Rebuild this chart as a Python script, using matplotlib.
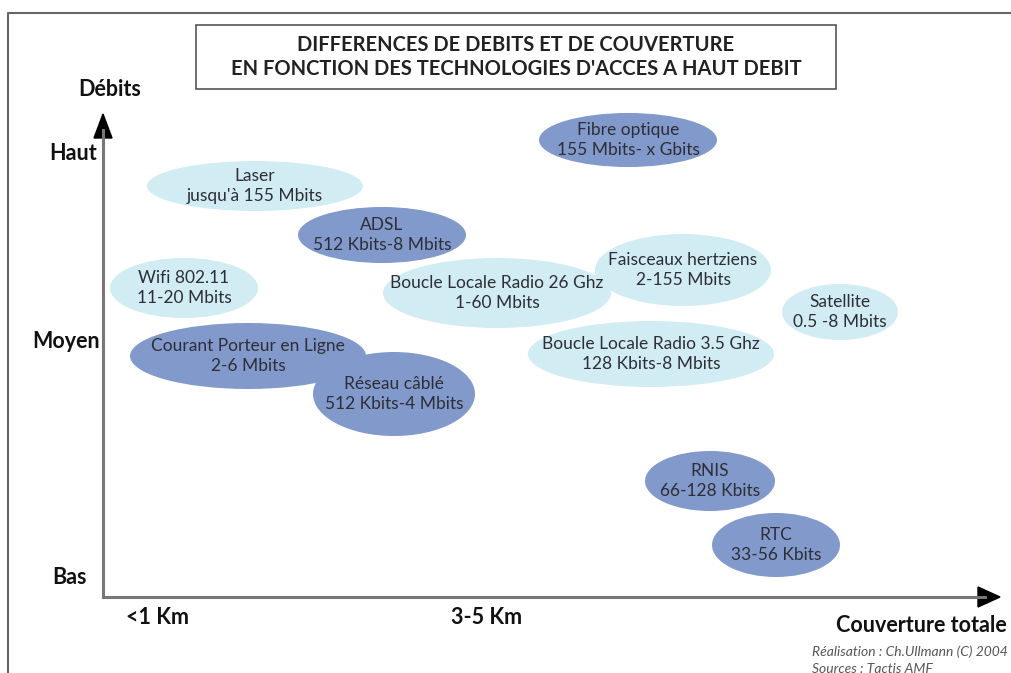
import matplotlib
matplotlib.use("Agg")
import matplotlib.pyplot as plt
from matplotlib.patches import Ellipse, Rectangle, FancyArrow

plt.rcParams['font.family'] = ['Lato', 'DejaVu Sans']

# technologies: label, coverage position (px), throughput position (px)
names = ["Laser\njusqu'à 155 Mbits", "Fibre optique\n155 Mbits- x Gbits",
         "ADSL\n512 Kbits-8 Mbits", "Wifi 802.11\n11-20 Mbits",
         "Boucle Locale Radio 26 Ghz\n1-60 Mbits", "Faisceaux hertziens\n2-155 Mbits",
         "Satellite\n0.5 -8 Mbits", "Boucle Locale Radio 3.5 Ghz\n128 Kbits-8 Mbits",
         "Courant Porteur en Ligne\n2-6 Mbits", "Réseau câblé\n512 Kbits-4 Mbits",
         "RNIS\n66-128 Kbits", "RTC\n33-56 Kbits"]
cov = [255, 628, 382, 184, 497, 683, 840, 651, 248, 394, 710, 776]
deb = [186, 140, 235, 288, 293, 270, 312, 354, 356, 394, 481, 545]
cov_span = [216, 178, 168, 148, 228, 176, 116, 246, 236, 162, 130, 128]
deb_span = [50, 54, 56, 60, 70, 72, 56, 66, 66, 84, 60, 64]
wired = [0, 1, 1, 0, 0, 0, 0, 0, 1, 1, 1, 1]

y_ticks = ["Haut", "Moyen", "Bas"]
y_pos = [153, 341, 578]
x_ticks = ["<1 Km", "3-5 Km"]
x_pos = [157, 487]

dark = "#8199cb"
light = "#d2ecf4"
txt = "#2e2e36"

fig = plt.figure(figsize=(10.11, 6.73), dpi=100)
ax = fig.add_axes([0, 0, 1, 1])
ax.set_xlim(0, 1011)
ax.set_ylim(673, 0)
ax.axis('off')

# outer frame (top and left edges)
ax.plot([8, 8, 1011], [673, 13, 13], color="#666666", lw=1.5)

# title box
ax.add_patch(Rectangle((196, 25), 640, 64, fill=False, ec="#555555", lw=1.2))
ax.text(516, 57, "DIFFERENCES DE DEBITS ET DE COUVERTURE\nEN FONCTION DES TECHNOLOGIES D'ACCES A HAUT DEBIT",
        ha='center', va='center', fontsize=14.5, fontweight='bold', color="#222222",
        linespacing=1.25)

# ellipses
for n, x, y, w, h, k in zip(names, cov, deb, cov_span, deb_span, wired):
    ax.add_patch(Ellipse((x, y), w, h, fc=dark if k else light, ec='none'))
    ax.text(x, y, n, ha='center', va='center', fontsize=12.5, color=txt, linespacing=1.3)

# axes with arrows
ax.plot([103, 103], [597, 130], color="#777777", lw=2.2)
ax.plot([103, 985], [597, 597], color="#777777", lw=2.2)
ax.add_patch(FancyArrow(103, 140, 0, -26, width=0, head_width=18, head_length=24,
                        length_includes_head=True, color='black'))
ax.add_patch(FancyArrow(978, 597, 22, 0, width=0, head_width=20, head_length=22,
                        length_includes_head=True, color='black'))

lab = dict(ha='center', va='center', fontsize=15.5, fontweight='bold', color="#111111")
ax.text(110, 90, "Débits", **lab)
for t, p, xc in zip(y_ticks, y_pos, [73, 66, 69]):
    ax.text(xc, p, t, **lab)
for t, p in zip(x_ticks, x_pos):
    ax.text(p, 617, t, **lab)
ax.text(836, 625, "Couverture totale", ha='left', va='center', fontsize=15.5,
        fontweight='bold', color="#111111")

ax.text(812, 652, "Réalisation : Ch.Ullmann (C) 2004", ha='left', va='center',
        fontsize=10, style='italic', color="#555555")
ax.text(812, 669, "Sources : Tactis AMF", ha='left', va='center',
        fontsize=10, style='italic', color="#555555")

fig.savefig("out.png", dpi=100)
